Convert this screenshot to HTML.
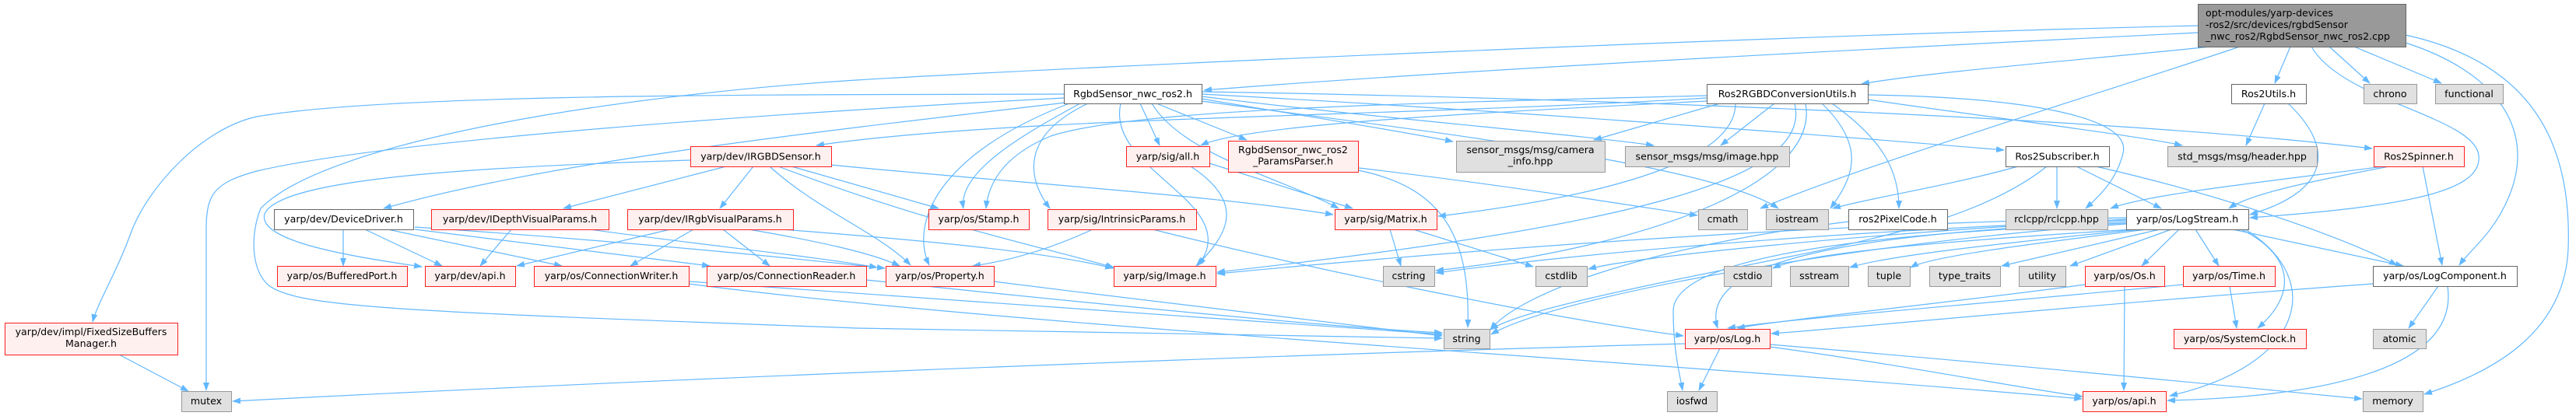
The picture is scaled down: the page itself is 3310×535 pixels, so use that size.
<!DOCTYPE html>
<html><head><meta charset="utf-8"><style>
html,body{margin:0;padding:0;background:#fff;}
svg{display:block;}
.e path{fill:none;stroke:#63b8ff;stroke-width:1.2;marker-end:url(#a);}
text{font-family:"DejaVu Sans","Liberation Sans",sans-serif;font-size:12.6px;fill:#000;}
.w{fill:#fff;stroke:#666;stroke-width:1;}
.r{fill:#fff0f0;stroke:#ff2020;stroke-width:1;}
.g{fill:#e0e0e0;stroke:#999;stroke-width:1;}
.k{fill:#999;stroke:#666;stroke-width:1;}
.c{text-anchor:middle;}
</style></head><body>
<svg width="3310" height="535" viewBox="0 0 3310 535" xmlns="http://www.w3.org/2000/svg">
<defs><marker id="a" markerWidth="11" markerHeight="8" refX="10" refY="4" orient="auto" markerUnits="userSpaceOnUse"><path d="M0,0 L11,4 L0,8 z" fill="#63b8ff" stroke="none"/></marker></defs>
<g class="e">
<!-- root -->
<path d="M2824,42 C2500,58 1900,88 1547,116"/>
<path d="M2840,60 C2700,75 2480,92 2392,108"/>
<path d="M2943,60 L2923,107"/>
<path d="M2993,60 L3045,107"/>
<path d="M3025,60 L3137,107"/>
<path d="M2824,33 C2300,45 1400,85 1100,103 C800,122 420,180 335,268 C322,300 322,345 344,366 C380,395 500,400 1100,422 C1500,430 1700,433 1853,435"/>
<path d="M2878,60 C2700,120 2400,210 2262,268"/>
<path d="M2970,60 C3010,130 3180,150 3185,200 C3190,245 3100,265 2891,280"/>
<path d="M3091,55 C3200,90 3260,160 3225,250 C3205,300 3175,320 3160,341"/>
<path d="M3091,45 C3250,80 3305,180 3300,320 C3295,430 3200,480 3115,507"/>
<!-- N1 -->
<path d="M1367,121 C1000,122 500,120 330,150 C260,165 190,240 168,300 C150,350 125,390 119,414"/>
<path d="M1367,126 C1000,145 500,180 330,220 C275,235 266,250 265,290 L265,502"/>
<path d="M1369,132 C1000,175 700,210 493,268"/>
<path d="M1465,133 L1490,187"/>
<path d="M1486,133 L1602,180"/>
<path d="M1544,127 C1650,145 1780,165 1867,182"/>
<path d="M1544,124 C1750,150 2000,170 2125,187"/>
<path d="M1544,121 C1900,140 2300,170 2575,193"/>
<path d="M1544,118 C2000,125 2700,150 3048,191"/>
<path d="M1388,133 C1320,170 1230,220 1238,268"/>
<path d="M1374,133 C1200,200 1170,290 1194,341"/>
<path d="M1398,133 C1310,175 1320,230 1349,268"/>
<path d="M1480,133 C1520,200 1650,230 1720,268"/>
<path d="M1440,133 C1420,220 1600,260 1540,341"/>
<path d="M1544,130 C1800,165 2200,210 2285,268"/>
<!-- N2 -->
<path d="M2193,126 C1800,150 1300,150 1049,187"/>
<path d="M2193,130 C1900,145 1600,160 1543,187"/>
<path d="M2210,133 L2048,180"/>
<path d="M2280,133 L2211,187"/>
<path d="M2400,128 C2550,150 2750,175 2804,187"/>
<path d="M2400,122 C2600,125 2740,150 2728,197 C2720,230 2700,250 2680,268"/>
<path d="M2230,133 C2230,220 2000,260 1848,278"/>
<path d="M2193,123 C1800,133 1460,140 1350,175 C1290,200 1270,235 1267,268"/>
<path d="M2341,133 C2400,190 2380,230 2352,268"/>
<path d="M2354,133 C2420,180 2440,220 2440,268"/>
<path d="M2306,133 C2330,230 2100,290 1564,350"/>
<path d="M2320,133 C2340,240 2100,320 1845,348"/>
<!-- Ros2Subscriber -->
<path d="M2643,214 L2643,268"/>
<path d="M2668,214 L2777,268"/>
<path d="M2693,214 C2850,250 3000,300 3080,341"/>
<path d="M2593,214 C2500,240 2400,255 2355,268"/>
<path d="M2630,214 C2560,270 2450,300 2300,330 C2100,370 1950,400 1915,424"/>
<!-- Ros2Spinner -->
<path d="M3063,214 C2900,235 2760,250 2712,268"/>
<path d="M3070,214 C2960,235 2890,250 2864,268"/>
<path d="M3113,214 L3138,341"/>
<!-- Ros2Utils -->
<path d="M2910,133 L2886,187"/>
<path d="M2940,133 C3000,190 2995,245 2891,276"/>
<!-- LogStream -->
<path d="M2740,295 C2500,310 2320,325 2278,345"/>
<path d="M2748,295 C2550,315 2420,330 2377,344"/>
<path d="M2758,295 C2600,315 2480,330 2455,344"/>
<path d="M2775,295 L2572,342"/>
<path d="M2790,295 L2660,342"/>
<path d="M2800,295 L2752,342"/>
<path d="M2821,295 L2851,342"/>
<path d="M2869,295 L3088,342"/>
<path d="M2880,295 C2950,330 2950,380 2901,422"/>
<path d="M2885,295 C2990,360 2960,470 2788,509"/>
<path d="M2732,285 C2400,300 2180,330 2207,422"/>
<path d="M2732,288 C2400,310 2000,380 1916,430"/>
<path d="M2732,283 C2300,300 2000,330 1845,351"/>
<path d="M2732,282 C2400,300 2100,330 2041,346"/>
<path d="M2732,280 C2300,290 1900,320 1564,352"/>
<path d="M2732,287 C2400,300 2150,330 2150,400 C2150,450 2158,480 2162,502"/>
<!-- Os, Time, LogComponent, Log -->
<path d="M2730,368 L2729,502"/>
<path d="M2679,366 C2500,390 2300,410 2232,422"/>
<path d="M2805,366 C2500,395 2300,410 2220,422"/>
<path d="M2865,368 L2874,422"/>
<path d="M3049,365 C2700,390 2400,420 2276,429"/>
<path d="M3133,368 L3095,422"/>
<path d="M3145,368 C3160,470 3000,510 2785,515"/>
<path d="M2274,446 C2450,470 2600,500 2676,510"/>
<path d="M2274,443 C2600,470 2900,500 3035,513"/>
<path d="M2210,448 L2183,502"/>
<path d="M2165,442 C1500,460 700,495 299,516"/>
<!-- misc -->
<path d="M1481,295 C1700,350 2000,410 2163,432"/>
<path d="M1404,295 C1350,320 1300,335 1250,342"/>
<path d="M885,365 C1300,420 2200,470 2675,513"/>
<path d="M885,362 C1300,390 1700,420 1853,430"/>
<path d="M1113,360 C1400,390 1700,420 1853,428"/>
<path d="M1277,362 C1500,390 1750,420 1853,432"/>
<path d="M2375,285 C2100,320 1950,380 1915,424"/>
<!-- IRGBDSensor -->
<path d="M933,214 L724,268"/>
<path d="M968,214 L925,268"/>
<path d="M989,214 C1050,270 1130,300 1170,341"/>
<path d="M1017,214 L1206,268"/>
<path d="M1000,214 C1200,290 1350,320 1431,344"/>
<path d="M1067,212 C1300,235 1550,250 1713,276"/>
<path d="M887,206 C600,215 360,230 340,275 C330,310 450,330 542,343"/>
<!-- IRgbVisualParams -->
<path d="M861,295 L664,342"/>
<path d="M891,295 L810,342"/>
<path d="M929,295 L989,342"/>
<path d="M962,295 C1050,310 1120,325 1156,342"/>
<path d="M1005,295 C1200,310 1350,325 1430,345"/>
<!-- IDepthVisualParams -->
<path d="M657,295 L617,342"/>
<path d="M758,295 C900,315 1050,330 1127,344"/>
<!-- DeviceDriver -->
<path d="M441,295 L441,342"/>
<path d="M469,295 L568,342"/>
<path d="M498,295 L722,342"/>
<path d="M533,295 L912,342"/>
<path d="M533,292 C800,310 1000,330 1137,345"/>
<!-- all.h, ParamsParser, Matrix -->
<path d="M1530,214 C1600,260 1580,300 1537,342"/>
<path d="M1554,210 L1738,268"/>
<path d="M1745,219 C1850,240 1890,300 1886,421"/>
<path d="M1746,216 C1950,240 2100,265 2181,277"/>
<path d="M1786,295 L1800,342"/>
<path d="M1816,295 L1970,343"/>
<path d="M153,456 L242,503"/>
</g>
<!-- nodes -->
<rect class="k" x="2824.5" y="5.5" width="267" height="55"/>
<text x="2834" y="21">opt-modules/yarp-devices</text>
<text x="2834" y="36">-ros2/src/devices/rgbdSensor</text>
<text x="2834" y="51">_nwc_ros2/RgbdSensor_nwc_ros2.cpp</text>

<rect class="w" x="1367.5" y="108.5" width="177" height="25"/><text class="c" x="1455.5" y="125">RgbdSensor_nwc_ros2.h</text>
<rect class="w" x="2193.5" y="108.5" width="207" height="25"/><text class="c" x="2296.5" y="125">Ros2RGBDConversionUtils.h</text>
<rect class="w" x="2867.5" y="108.5" width="96" height="25"/><text class="c" x="2915" y="125">Ros2Utils.h</text>
<rect class="g" x="3037.5" y="108.5" width="68" height="25"/><text class="c" x="3071" y="125">chrono</text>
<rect class="g" x="3129.5" y="108.5" width="87" height="25"/><text class="c" x="3172.5" y="125">functional</text>

<rect class="r" x="887.5" y="188.5" width="181" height="26"/><text class="c" x="977.5" y="205.5">yarp/dev/IRGBDSensor.h</text>
<rect class="r" x="1447.5" y="188.5" width="107" height="26"/><text class="c" x="1500.5" y="205.5">yarp/sig/all.h</text>
<rect class="r" x="1578.5" y="181.5" width="167" height="40"/><text class="c" x="1661.5" y="197">RgbdSensor_nwc_ros2</text><text class="c" x="1661.5" y="211.5">_ParamsParser.h</text>
<rect class="g" x="1871.5" y="181.5" width="191" height="40"/><text class="c" x="1966.5" y="197">sensor_msgs/msg/camera</text><text class="c" x="1966.5" y="211.5">_info.hpp</text>
<rect class="g" x="2088.5" y="188.5" width="211" height="26"/><text class="c" x="2193.5" y="205.5">sensor_msgs/msg/image.hpp</text>
<rect class="w" x="2577.5" y="188.5" width="133" height="26"/><text class="c" x="2643.5" y="205.5">Ros2Subscriber.h</text>
<rect class="g" x="2785.5" y="188.5" width="192" height="26"/><text class="c" x="2881" y="205.5">std_msgs/msg/header.hpp</text>
<rect class="r" x="3050.5" y="188.5" width="116" height="26"/><text class="c" x="3108" y="205.5">Ros2Spinner.h</text>

<rect class="w" x="352.5" y="269.5" width="179" height="26"/><text class="c" x="441.5" y="286">yarp/dev/DeviceDriver.h</text>
<rect class="r" x="554.5" y="269.5" width="228" height="26"/><text class="c" x="668" y="286">yarp/dev/IDepthVisualParams.h</text>
<rect class="r" x="806.5" y="269.5" width="213" height="26"/><text class="c" x="912.5" y="286">yarp/dev/IRgbVisualParams.h</text>
<rect class="r" x="1193.5" y="269.5" width="129" height="26"/><text class="c" x="1257.5" y="286">yarp/os/Stamp.h</text>
<rect class="r" x="1346.5" y="269.5" width="191" height="26"/><text class="c" x="1441.5" y="286">yarp/sig/IntrinsicParams.h</text>
<rect class="r" x="1715.5" y="269.5" width="131" height="26"/><text class="c" x="1780.5" y="286">yarp/sig/Matrix.h</text>
<rect class="g" x="2182.5" y="269.5" width="63" height="26"/><text class="c" x="2213.5" y="286">cmath</text>
<rect class="g" x="2269.5" y="269.5" width="80" height="26"/><text class="c" x="2309" y="286">iostream</text>
<rect class="w" x="2375.5" y="269.5" width="127" height="26"/><text class="c" x="2438.5" y="286">ros2PixelCode.h</text>
<rect class="g" x="2577.5" y="269.5" width="131" height="26"/><text class="c" x="2642.5" y="286">rclcpp/rclcpp.hpp</text>
<rect class="w" x="2732.5" y="269.5" width="157" height="26"/><text class="c" x="2810.5" y="286">yarp/os/LogStream.h</text>

<rect class="r" x="356.5" y="342.5" width="167" height="26"/><text class="c" x="439.5" y="359">yarp/os/BufferedPort.h</text>
<rect class="r" x="546.5" y="342.5" width="116" height="26"/><text class="c" x="604" y="359">yarp/dev/api.h</text>
<rect class="r" x="686.5" y="342.5" width="199" height="26"/><text class="c" x="785.5" y="359">yarp/os/ConnectionWriter.h</text>
<rect class="r" x="908.5" y="342.5" width="205" height="26"/><text class="c" x="1010.5" y="359">yarp/os/ConnectionReader.h</text>
<rect class="r" x="1138.5" y="342.5" width="139" height="26"/><text class="c" x="1207.5" y="359">yarp/os/Property.h</text>
<rect class="r" x="1431.5" y="342.5" width="131" height="26"/><text class="c" x="1496.5" y="359">yarp/sig/Image.h</text>
<rect class="g" x="1777.5" y="342.5" width="66" height="26"/><text class="c" x="1810" y="359">cstring</text>
<rect class="g" x="1973.5" y="342.5" width="66" height="26"/><text class="c" x="2006" y="359">cstdlib</text>
<rect class="g" x="2215.5" y="342.5" width="61" height="26"/><text class="c" x="2245.5" y="359">cstdio</text>
<rect class="g" x="2300.5" y="342.5" width="75" height="26"/><text class="c" x="2337.5" y="359">sstream</text>
<rect class="g" x="2400.5" y="342.5" width="54" height="26"/><text class="c" x="2427" y="359">tuple</text>
<rect class="g" x="2479.5" y="342.5" width="91" height="26"/><text class="c" x="2524.5" y="359">type_traits</text>
<rect class="g" x="2594.5" y="342.5" width="60" height="26"/><text class="c" x="2624" y="359">utility</text>
<rect class="r" x="2679.5" y="342.5" width="102" height="26"/><text class="c" x="2730" y="359">yarp/os/Os.h</text>
<rect class="r" x="2805.5" y="342.5" width="118" height="26"/><text class="c" x="2864" y="359">yarp/os/Time.h</text>
<rect class="w" x="3049.5" y="342.5" width="185" height="26"/><text class="c" x="3141.5" y="359">yarp/os/LogComponent.h</text>

<rect class="r" x="6.5" y="415.5" width="222" height="41"/><text class="c" x="117" y="431">yarp/dev/impl/FixedSizeBuffers</text><text class="c" x="117" y="446">Manager.h</text>
<rect class="g" x="1855.5" y="423.5" width="59" height="25"/><text class="c" x="1884.5" y="440">string</text>
<rect class="r" x="2165.5" y="423.5" width="109" height="25"/><text class="c" x="2219.5" y="440">yarp/os/Log.h</text>
<rect class="r" x="2793.5" y="423.5" width="170" height="25"/><text class="c" x="2878" y="440">yarp/os/SystemClock.h</text>
<rect class="g" x="3049.5" y="423.5" width="68" height="25"/><text class="c" x="3083" y="440">atomic</text>

<rect class="g" x="233.5" y="503.5" width="64" height="26"/><text class="c" x="265" y="520">mutex</text>
<rect class="g" x="2142.5" y="503.5" width="64" height="26"/><text class="c" x="2174" y="520">iosfwd</text>
<rect class="r" x="2676.5" y="503.5" width="107" height="26"/><text class="c" x="2729.5" y="520">yarp/os/api.h</text>
<rect class="g" x="3036.5" y="503.5" width="77" height="26"/><text class="c" x="3074.5" y="520">memory</text>
</svg>
</body></html>
